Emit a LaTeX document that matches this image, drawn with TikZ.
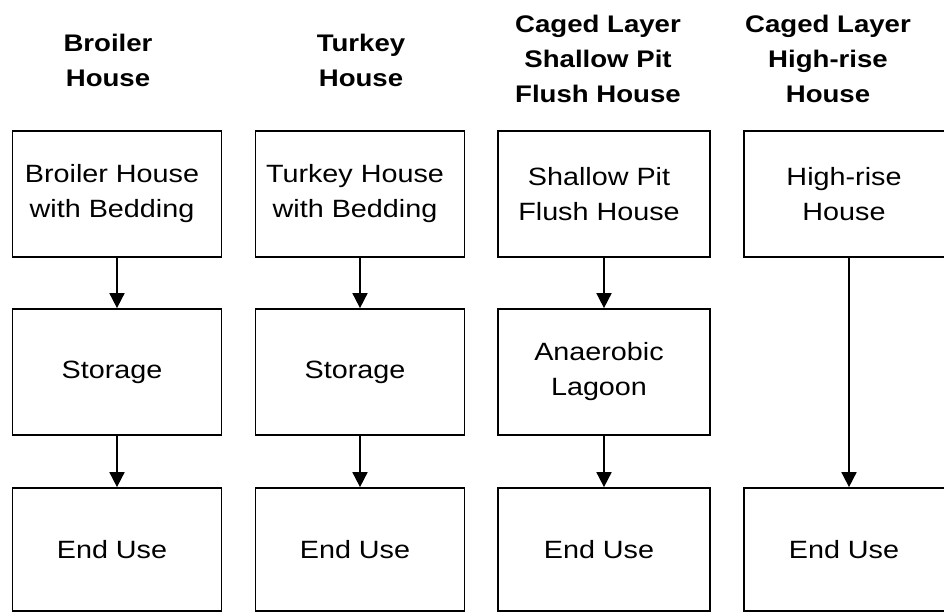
\documentclass[tikz,border=0pt]{standalone}
\usepackage{fontspec}
\setmainfont{Liberation Sans}[FakeStretch=1.15]
\usetikzlibrary{arrows.meta}
\begin{document}
\begin{tikzpicture}[x=1pt,y=1pt,
  box/.style={draw=black, line width=1.7pt, minimum width=209pt, minimum height=126pt, inner sep=0pt},
  endbox/.style={box, minimum height=123pt},
  txt/.style={align=center, inner sep=0pt, xshift=-5pt, font=\fontsize{25}{35}\selectfont},
  head/.style={align=center, inner sep=0pt, font=\bfseries\fontsize{24}{35}\selectfont},
  flow/.style={draw=black, line width=1.7pt, -{Triangle[width=15pt,length=15pt]}}]
\useasboundingbox[fill=white] (0,0) rectangle (944,612);
% headings
\node[head] (h1) at (108,552) {Broiler\\House};
\node[head] (h2) at (361,552) {Turkey\\House};
\node[head] (h3) at (598,553) {Caged Layer\\Shallow Pit\\Flush House};
\node[head] (h4) at (828,553) {Caged Layer\\High-rise\\House};
% top row
\node[box, label={[txt]center:{Broiler House\\with Bedding}}] (t1) at (117,418) {};
\node[box, label={[txt]center:{Turkey House\\with Bedding}}] (t2) at (360,418) {};
\node[box, minimum width=212pt, label={[txt]center:{Shallow Pit\\Flush House}}] (t3) at (604,418) {};
\node[box, minimum width=210pt, label={[txt]center:{High-rise\\House}}] (t4) at (849,418) {};
% middle row
\node[box, label={[txt]center:Storage}] (m1) at (117,240) {};
\node[box, label={[txt]center:Storage}] (m2) at (360,240) {};
\node[box, minimum width=212pt, label={[txt]center:{Anaerobic\\Lagoon}}] (m3) at (604,240) {};
% bottom row
\node[endbox, label={[txt]center:End Use}] (e1) at (117,62.5) {};
\node[endbox, label={[txt]center:End Use}] (e2) at (360,62.5) {};
\node[endbox, minimum width=212pt, label={[txt]center:End Use}] (e3) at (604,62.5) {};
\node[endbox, minimum width=210pt, label={[txt]center:End Use}] (e4) at (849,62.5) {};
% connectors
\draw[flow] (t1) -- (m1);
\draw[flow] (m1) -- (e1);
\draw[flow] (t2) -- (m2);
\draw[flow] (m2) -- (e2);
\draw[flow] (t3) -- (m3);
\draw[flow] (m3) -- (e3);
\draw[flow] (t4) -- (e4);
\end{tikzpicture}
\end{document}
